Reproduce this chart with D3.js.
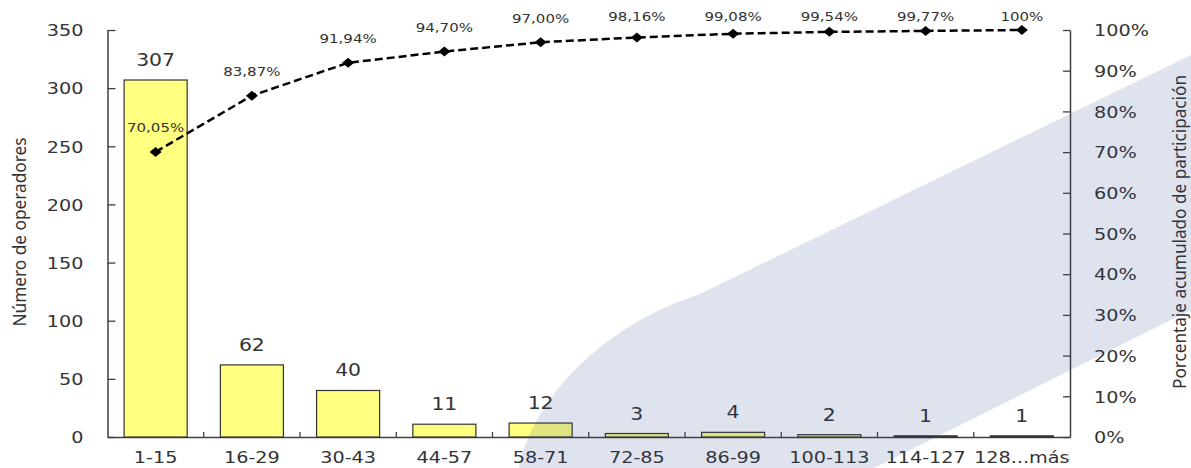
<!DOCTYPE html>
<html>
<head>
<meta charset="utf-8">
<script src="https://cdn.jsdelivr.net/npm/d3@7"></script>
<style>
  body { margin: 0; background: #fff; }
  svg { display: block; }
  text { fill: #333; }
</style>
</head>
<body>
<div id="chart"></div>
<script>
// chart data
const categories = ["1-15", "16-29", "30-43", "44-57", "58-71", "72-85", "86-99", "100-113", "114-127", "128...más"];
const counts = [307, 62, 40, 11, 12, 3, 4, 2, 1, 1];
const cumPct = [70.05, 83.87, 91.94, 94.70, 97.00, 98.16, 99.08, 99.54, 99.77, 100];
const cumLabels = ["70,05%", "83,87%", "91,94%", "94,70%", "97,00%", "98,16%", "99,08%", "99,54%", "99,77%", "100%"];
const countTicks = [0, 50, 100, 150, 200, 250, 300, 350];
const pctTicks = [0, 10, 20, 30, 40, 50, 60, 70, 80, 90, 100];

const W = 1191, H = 468;
const margin = {top: 30, right: 121, bottom: 31, left: 107.5};
const tickFont = "'DejaVu Sans', Verdana, sans-serif";
const titleFont = "'Noto Sans', 'Open Sans', sans-serif";
const stretchX = 1.2;   // the original picture is widened horizontally

const svg = d3.select("#chart").append("svg")
    .attr("width", W)
    .attr("height", H);

const x = d3.scaleBand().domain(categories).range([margin.left, W - margin.right]);
const y = d3.scaleLinear().domain([0, 350]).range([H - margin.bottom, margin.top]);
const yp = d3.scaleLinear().domain([0, 100]).range([H - margin.bottom, margin.top]);

// widen text like in the picture
function stretch(sel, k) {
    sel.each(function() {
        let len = this.getComputedTextLength();
        d3.select(this).attr("textLength", len * k).attr("lengthAdjust", "spacingAndGlyphs");
    });
}

// left axis
const gLeft = svg.append("g")
    .attr("transform", `translate(${margin.left},0)`)
    .call(d3.axisLeft(y).tickValues(countTicks).tickSizeInner(-8).tickSizeOuter(0).tickPadding(24));

// right axis
const gRight = svg.append("g")
    .attr("transform", `translate(${W - margin.right},0)`)
    .call(d3.axisRight(yp).tickValues(pctTicks).tickSizeInner(-7).tickSizeOuter(0).tickPadding(24)
        .tickFormat(d => d + "%"));

// bottom axis (labels only, ticks drawn between bands)
const gBottom = svg.append("g")
    .attr("transform", `translate(0,${H - margin.bottom})`)
    .call(d3.axisBottom(x).tickSize(0).tickPadding(26));

gBottom.selectAll(".tick text").attr("dy", "0");

[gLeft, gRight, gBottom].forEach(g => {
    g.select(".domain").attr("stroke", "#404040").attr("stroke-width", 1.5);
    g.selectAll(".tick line").attr("stroke", "#404040").attr("stroke-width", 1.3);
    g.selectAll(".tick text")
        .attr("fill", "#3a3a3a")
        .style("font-family", tickFont)
        .style("font-size", "16px");
});
gLeft.selectAll(".tick text").attr("dy", "0.36em");
gRight.selectAll(".tick text").attr("dy", "0.36em");

gBottom.append("g")
    .selectAll("line")
    .data(categories.slice(0, -1))
    .join("line")
    .attr("x1", d => x(d) + x.step())
    .attr("x2", d => x(d) + x.step())
    .attr("y1", 0)
    .attr("y2", -5)
    .attr("stroke", "#404040")
    .attr("stroke-width", 1.3);

stretch(gLeft.selectAll(".tick text"), stretchX);
stretch(gRight.selectAll(".tick text"), stretchX);
stretch(gBottom.selectAll(".tick text"), stretchX);

// bars
const barW = x.bandwidth() * 0.655;
svg.append("g").classed("bars", true)
    .selectAll("rect")
    .data(counts)
    .join("rect")
    .attr("x", (d, i) => x(categories[i]) + (x.bandwidth() - barW) / 2)
    .attr("width", barW)
    .attr("y", d => y(d))
    .attr("height", d => y(0) - y(d))
    .attr("fill", "#ffff80")
    .attr("stroke", "#333")
    .attr("stroke-width", 1.2);

// bar value labels
const barLabels = svg.append("g")
    .selectAll("text")
    .data(counts)
    .join("text")
    .attr("x", (d, i) => x(categories[i]) + x.bandwidth() / 2)
    .attr("y", d => y(d) - 14)
    .attr("text-anchor", "middle")
    .attr("fill", "#333")
    .style("font-family", tickFont)
    .style("font-size", "17px")
    .text(d => d);
stretch(barLabels, stretchX);

// cumulative line
const cx = i => x(categories[i]) + x.bandwidth() / 2;
const line = d3.line()
    .x((d, i) => cx(i))
    .y(d => yp(d));

svg.append("path")
    .datum(cumPct)
    .attr("d", line)
    .attr("fill", "none")
    .attr("stroke", "#000")
    .attr("stroke-width", 2.5)
    .attr("stroke-dasharray", "8,4");

function diamond(w, h) {
    const p = d3.path();
    p.moveTo(0, -h / 2);
    p.lineTo(w / 2, 0);
    p.lineTo(0, h / 2);
    p.lineTo(-w / 2, 0);
    p.closePath();
    return p.toString();
}

svg.append("g")
    .selectAll("path")
    .data(cumPct)
    .join("path")
    .attr("d", diamond(12, 10))
    .attr("transform", (d, i) => `translate(${cx(i)},${yp(d)})`)
    .attr("fill", "#000");

const pctLabels = svg.append("g")
    .selectAll("text")
    .data(cumPct)
    .join("text")
    .attr("x", (d, i) => cx(i))
    .attr("y", d => Math.max(yp(d) - 19.5, 21))
    .attr("text-anchor", "middle")
    .attr("fill", "#333")
    .style("font-family", tickFont)
    .style("font-size", "12.5px")
    .text((d, i) => cumLabels[i]);
stretch(pctLabels, stretchX);

// axis titles
svg.append("text")
    .attr("transform", `translate(26,232) rotate(-90)`)
    .attr("text-anchor", "middle")
    .attr("textLength", 189)
    .attr("lengthAdjust", "spacingAndGlyphs")
    .style("font-family", titleFont)
    .style("font-size", "18px")
    .attr("fill", "#111")
    .text("Número de operadores");

svg.append("text")
    .attr("transform", `translate(1186,232) rotate(-90)`)
    .attr("text-anchor", "middle")
    .attr("textLength", 314)
    .attr("lengthAdjust", "spacingAndGlyphs")
    .style("font-family", titleFont)
    .style("font-size", "18px")
    .attr("fill", "#111")
    .text("Porcentaje acumulado de participación");

// decorative watermark band laid over the chart
const wm = d3.path();
wm.moveTo(519, 468);
wm.bezierCurveTo(530, 410, 590, 330, 700, 294);
wm.lineTo(1191, 55);
wm.lineTo(1191, 310);
wm.lineTo(874, 468);
wm.closePath();

svg.append("path")
    .attr("d", wm.toString())
    .attr("fill", "rgb(42,68,142)")
    .attr("fill-opacity", 0.15)
    .style("pointer-events", "none");
</script>
</body>
</html>
